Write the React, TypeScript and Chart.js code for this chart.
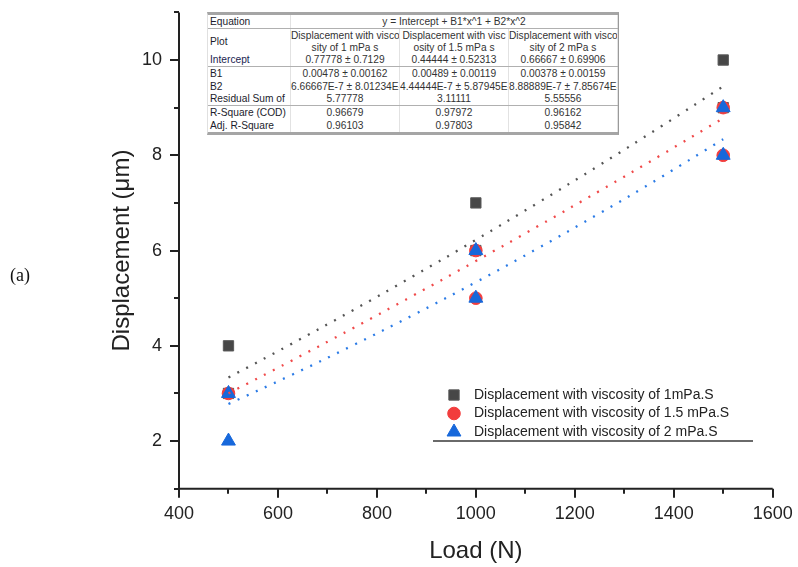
import { useEffect, useRef } from "react";
import { Chart, registerables } from "chart.js";
import { drawPoint } from "chart.js/helpers";

Chart.register(...registerables);

// ---------- data ----------
const xMajorTicks = [400, 600, 800, 1000, 1200, 1400, 1600];
const xMinorTicks = [500, 700, 900, 1100, 1300, 1500];
const yMajorTicks = [2, 4, 6, 8, 10];
const yMinorTicks = [1, 3, 5, 7, 9, 11];

const seriesLabels = [
  "Displacement with viscosity of 1mPa.S",
  "Displacement with viscosity of 1.5 mPa.S",
  "Displacement with viscosity of 2 mPa.S",
];

const visc1Load = [500, 500, 1000, 1000, 1500, 1500];
const visc1Disp = [4, 3, 7, 6, 10, 9];
const visc15Load = [500, 1000, 1000, 1500, 1500];
const visc15Disp = [3, 6, 5, 9, 8];
const visc2Load = [500, 500, 1000, 1000, 1500, 1500];
const visc2Disp = [3, 2, 6, 5, 9, 8];

// fitted curves (values of the polynomial fits shown in the table)
const fitLoad = [500, 625, 750, 875, 1000, 1125, 1250, 1375, 1500];
const fit1Disp = [3.334, 4.026, 4.738, 5.471, 6.224, 6.999, 7.794, 8.611, 9.448];
const fit15Disp = [3.001, 3.674, 4.362, 5.064, 5.779, 6.508, 7.251, 8.009, 8.779];
const fit2Disp = [2.779, 3.376, 4.002, 4.655, 5.336, 6.044, 6.781, 7.545, 8.337];

// fit table
const tableEquation = "y = Intercept + B1*x^1 + B2*x^2";
const tableRowLabels = ["Intercept", "B1", "B2", "Residual Sum of", "R-Square (COD)", "Adj. R-Square"];
const tablePlotHeaders = [
  ["Displacement with visco", "sity of 1 mPa s"],
  ["Displacement with visc", "osity of 1.5 mPa s"],
  ["Displacement with visco", "sity of 2 mPa s"],
];
const tableCol1 = ["0.77778 ± 0.7129", "0.00478 ± 0.00162", "6.66667E-7 ± 8.01234E-7", "5.77778", "0.96679", "0.96103"];
const tableCol2 = ["0.44444 ± 0.52313", "0.00489 ± 0.00119", "4.44444E-7 ± 5.87945E-7", "3.11111", "0.97972", "0.97803"];
const tableCol3 = ["0.66667 ± 0.69906", "0.00378 ± 0.00159", "8.88889E-7 ± 7.85674E-7", "5.55556", "0.96162", "0.95842"];

// ---------- styles ----------
const FONT = 'Arial, "Liberation Sans", sans-serif';
const markerStyles = [
  { pointStyle: "rect", radius: 7.3, fill: "#474747", stroke: "#5a5a5a" },
  { pointStyle: "circle", radius: 6.3, fill: "#f23d3d", stroke: "#f23d3d" },
  { pointStyle: "triangle", radius: 8, fill: "#1768db", stroke: "#1768db" },
];
const fitColors = ["#555555", "#f04a4a", "#2b7be6"];

const toPts = (xs: number[], ys: number[]) => xs.map((x, i) => ({ x, y: ys[i] }));

const axesPlugin = {
  id: "axesTicks",
  afterDraw(chart: any) {
    const { ctx, chartArea } = chart;
    const xs = chart.scales.x;
    const ys = chart.scales.y;
    ctx.save();
    ctx.strokeStyle = "#222";
    ctx.lineWidth = 2;
    ctx.lineCap = "butt";
    ctx.beginPath();
    ctx.moveTo(chartArea.left, chartArea.top);
    ctx.lineTo(chartArea.left, chartArea.bottom + 1);
    ctx.moveTo(chartArea.left - 1, chartArea.bottom);
    ctx.lineTo(chartArea.right, chartArea.bottom);
    xMajorTicks.forEach((v) => {
      const p = Math.round(xs.getPixelForValue(v));
      ctx.moveTo(p, chartArea.bottom);
      ctx.lineTo(p, chartArea.bottom + 9);
    });
    xMinorTicks.forEach((v) => {
      const p = Math.round(xs.getPixelForValue(v));
      ctx.moveTo(p, chartArea.bottom);
      ctx.lineTo(p, chartArea.bottom + 5);
    });
    yMajorTicks.forEach((v) => {
      const p = Math.round(ys.getPixelForValue(v));
      ctx.moveTo(chartArea.left, p);
      ctx.lineTo(chartArea.left - 9, p);
    });
    yMinorTicks.forEach((v) => {
      const p = Math.round(ys.getPixelForValue(v));
      ctx.moveTo(chartArea.left, p);
      ctx.lineTo(chartArea.left - 5, p);
    });
    ctx.stroke();
    ctx.restore();
  },
};

const legendPlugin = {
  id: "boxLegend",
  afterDraw(chart: any) {
    const ctx = chart.ctx;
    ctx.save();
    ctx.strokeStyle = "#6a6a6a";
    ctx.lineWidth = 2;
    ctx.beginPath();
    ctx.moveTo(433, 441);
    ctx.lineTo(753, 441);
    ctx.stroke();
    ctx.font = "14px " + FONT;
    ctx.textBaseline = "middle";
    ctx.textAlign = "left";
    seriesLabels.forEach((label, i) => {
      const y = 395 + i * 18.5;
      const m = markerStyles[i];
      ctx.fillStyle = m.fill;
      ctx.strokeStyle = m.stroke;
      ctx.lineWidth = 1;
      drawPoint(ctx, { pointStyle: m.pointStyle as any, radius: m.radius, borderWidth: 1, rotation: 0 }, 454, y);
      ctx.fillStyle = "#222";
      ctx.fillText(label, 474, y);
    });
    ctx.restore();
  },
};

function FitTable() {
  const cols = [tableCol1, tableCol2, tableCol3];
  const rowH = [14, 25, 13, 13, 13, 13, 13, 13];
  const sepAfter = [0, 3];
  const cell = (content: any, key: string, extra: any = {}) => (
    <div
      key={key}
      style={{
        overflow: "hidden",
        whiteSpace: "nowrap",
        textAlign: "center",
        display: "flex",
        flexDirection: "column",
        justifyContent: "center",
        borderRight: "1px solid #e2e2e2",
        boxSizing: "border-box",
        ...extra,
      }}
    >
      {content}
    </div>
  );
  const rows: any[] = [];
  rows.push(
    <div key="eq" style={{ display: "grid", gridTemplateColumns: "83px 327px", height: rowH[0], borderBottom: "1px solid #b0b0b0", boxSizing: "border-box" }}>
      {cell("Equation", "l", { textAlign: "left", paddingLeft: 2, color: "#1c1c2c" })}
      {cell(tableEquation, "v")}
    </div>
  );
  rows.push(
    <div key="plot" style={{ display: "grid", gridTemplateColumns: "83px 109px 109px 109px", height: rowH[1], boxSizing: "border-box" }}>
      {cell("Plot", "l", { textAlign: "left", paddingLeft: 2, color: "#1c1c2c" })}
      {tablePlotHeaders.map((h, i) =>
        cell(
          <>
            <div style={{ lineHeight: "11.5px" }}>{h[0]}</div>
            <div style={{ lineHeight: "11.5px" }}>{h[1]}</div>
          </>,
          "h" + i
        )
      )}
    </div>
  );
  tableRowLabels.forEach((lab, r) => {
    rows.push(
      <div
        key={"r" + r}
        style={{
          display: "grid",
          gridTemplateColumns: "83px 109px 109px 109px",
          height: rowH[r + 2],
          borderBottom: sepAfter.includes(r) ? "1px solid #b0b0b0" : "none",
          boxSizing: "border-box",
        }}
      >
        {cell(lab, "l", { textAlign: "left", paddingLeft: 2, color: r === 0 ? "#1a2450" : "#1c1c2c" })}
        {cols.map((c, i) => cell(c[r], "c" + i))}
      </div>
    );
  });
  return (
    <div
      style={{
        position: "absolute",
        left: 207,
        top: 12,
        width: 410,
        background: "#fff",
        borderTop: "3px solid #a5a5a5",
        borderBottom: "3px solid #a5a5a5",
        borderLeft: "1px solid #e0e0e0",
        borderRight: "1px solid #9a9a9a",
        boxSizing: "content-box",
        fontFamily: FONT,
        fontSize: "10.2px",
        color: "#333",
        lineHeight: "12px",
      }}
    >
      {rows}
    </div>
  );
}

export default function App() {
  const canvasRef = useRef<HTMLCanvasElement>(null);
  useEffect(() => {
    const canvas = canvasRef.current;
    if (!canvas) return;
    const markerDs = [
      toPts(visc1Load, visc1Disp),
      toPts(visc15Load, visc15Disp),
      toPts(visc2Load, visc2Disp),
    ].map((data, i) => ({
      label: seriesLabels[i],
      data,
      showLine: false,
      pointStyle: markerStyles[i].pointStyle as any,
      pointRadius: markerStyles[i].radius,
      pointHoverRadius: markerStyles[i].radius,
      pointBackgroundColor: markerStyles[i].fill,
      pointBorderColor: markerStyles[i].stroke,
      pointBorderWidth: 1,
      order: 5 - i,
    }));
    const fitDs = [fit1Disp, fit15Disp, fit2Disp].map((ys, i) => ({
      label: "fit " + seriesLabels[i],
      data: toPts(fitLoad, ys),
      showLine: true,
      pointRadius: 0,
      pointHoverRadius: 0,
      borderColor: fitColors[i],
      borderWidth: 2.3,
      borderDash: [2, 8],
      fill: false,
      tension: 0.4,
      order: i,
    }));
    const chart = new Chart(canvas, {
      type: "scatter",
      data: { datasets: [...markerDs, ...fitDs] as any },
      options: {
        animation: false,
        responsive: false,
        maintainAspectRatio: false,
        layout: { autoPadding: false, padding: { left: 0, right: 25.3, top: 12.4, bottom: 0 } },
        plugins: { legend: { display: false }, tooltip: { enabled: false } },
        scales: {
          x: {
            type: "linear",
            min: 400,
            max: 1600,
            afterBuildTicks: (s: any) => {
              s.ticks = xMajorTicks.map((v) => ({ value: v }));
            },
            afterFit: (s: any) => {
              s.height = 78.3;
              s.paddingLeft = 0;
              s.paddingRight = 0;
              s.paddingTop = 0;
              s.paddingBottom = 0;
            },
            grid: { display: false, drawTicks: false },
            border: { display: false },
            ticks: {
              font: { size: 18, family: FONT },
              color: "#222",
              padding: 15,
              maxRotation: 0,
              callback: (v: any) => String(v),
            },
            title: {
              display: true,
              text: "Load (N)",
              color: "#222",
              font: { size: 24, family: FONT, lineHeight: 1.2 },
              padding: { top: 0, bottom: 1.6 },
            },
          },
          y: {
            type: "linear",
            min: 1,
            max: 11,
            afterBuildTicks: (s: any) => {
              s.ticks = yMajorTicks.map((v) => ({ value: v }));
            },
            afterFit: (s: any) => {
              s.width = 179;
              s.paddingLeft = 0;
              s.paddingRight = 0;
              s.paddingTop = 0;
              s.paddingBottom = 0;
            },
            grid: { display: false, drawTicks: false },
            border: { display: false },
            ticks: { font: { size: 18, family: FONT }, color: "#222", padding: 17, callback: (v: any) => String(v) },
            title: {
              display: true,
              text: "Displacement (μm)",
              color: "#222",
              font: { size: 24, family: FONT, lineHeight: 1.2 },
              padding: { top: 107.6, bottom: 0 },
            },
          },
        },
      },
      plugins: [axesPlugin, legendPlugin],
    });
    return () => chart.destroy();
  }, []);
  return (
    <div style={{ position: "fixed", left: 0, top: 0, width: 798, height: 567, background: "#fff" }}>
      <canvas ref={canvasRef} width={798} height={567} style={{ position: "absolute", left: 0, top: 0, width: 798, height: 567 }} />
      <div
        style={{
          position: "absolute",
          left: 10,
          top: 264,
          fontFamily: '"Liberation Serif", "Times New Roman", serif',
          fontSize: 18,
          color: "#111",
          lineHeight: "22px",
        }}
      >
        (a)
      </div>
      <FitTable />
    </div>
  );
}
